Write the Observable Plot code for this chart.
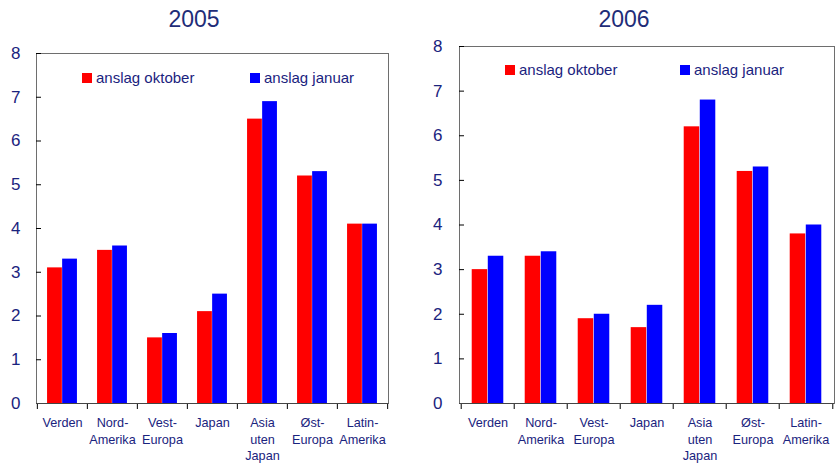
<!DOCTYPE html>
<html>
<head>
<meta charset="utf-8">
<script src="https://cdn.jsdelivr.net/npm/d3@7"></script>
<script src="https://cdn.jsdelivr.net/npm/@observablehq/plot@0.6"></script>
<style>
  html, body { margin: 0; padding: 0; background: #fff; }
  #root { position: relative; width: 836px; height: 464px; font-family: "Liberation Sans", Arial, sans-serif; overflow: hidden; }
  .title { position: absolute; top: 6px; font-size: 23px; color: #1f2d78; transform: translateX(-50%); white-space: nowrap; }
  .panel { position: absolute; top: 40px; }
  .leg { position: absolute; font-size: 15px; color: #1a237e; white-space: nowrap; line-height: 1; }
  .sw { position: absolute; width: 10px; height: 10px; }
</style>
</head>
<body>
<div id="root"></div>
<script>
const categories = ["Verden", "Nord-Amerika", "Vest-Europa", "Japan", "Asia uten Japan", "Øst-Europa", "Latin-Amerika"];
const tickLabels = ["Verden", "Nord-\nAmerika", "Vest-\nEuropa", "Japan", "Asia\nuten\nJapan", "Øst-\nEuropa", "Latin-\nAmerika"];
const yTicks = [0, 1, 2, 3, 4, 5, 6, 7, 8];
const seriesNames = ["anslag oktober", "anslag januar"];
const seriesColors = ["#ff0000", "#0000ff"];
const titles = ["2005", "2006"];
const okt2005 = [3.1, 3.5, 1.5, 2.1, 6.5, 5.2, 4.1];
const jan2005 = [3.3, 3.6, 1.6, 2.5, 6.9, 5.3, 4.1];
const okt2006 = [3.0, 3.3, 1.9, 1.7, 6.2, 5.2, 3.8];
const jan2006 = [3.3, 3.4, 2.0, 2.2, 6.8, 5.3, 4.0];

const navy = "#1a237e";
const root = document.getElementById("root");

function panel(okt, jan, opts) {
  const W = 418, H = 424;
  const step = (W - opts.ml - opts.mr) / categories.length;
  const rows = categories.map((c, i) => ({region: c, okt: okt[i], jan: jan[i], label: tickLabels[i]}));
  const plot = Plot.plot({
    width: W, height: H,
    marginLeft: opts.ml, marginRight: opts.mr, marginTop: opts.mt, marginBottom: opts.mb,
    style: {fontFamily: '"Liberation Sans", Arial, sans-serif', background: "transparent", overflow: "visible"},
    x: {domain: categories, padding: 0, axis: null, label: null},
    y: {domain: [0, 8], axis: null, label: null},
    marks: [
      Plot.barY(rows, {x: "region", y: "okt", fill: seriesColors[0], insetLeft: 0.2 * step, insetRight: 0.5 * step}),
      Plot.barY(rows, {x: "region", y: "jan", fill: seriesColors[1], insetLeft: 0.5 * step, insetRight: 0.2 * step}),
      Plot.frame({stroke: "#6e6e6e", strokeWidth: 1}),
      Plot.ruleY(yTicks, {stroke: "#000", insetRight: W - opts.ml - opts.mr - 5}),
      Plot.axisY({ticks: yTicks, tickSize: 0, tickPadding: opts.tp, fontSize: 17, fill: navy, label: null, tickFormat: d => String(d)}),
      Plot.axisX({tickSize: 6, dx: -step / 2, tickFormat: () => "", label: null, stroke: "#000"}),
      Plot.axisX({ticks: [categories[categories.length - 1]], tickSize: 6, dx: step / 2, tickFormat: () => "", label: null, stroke: "#000"}),
      Plot.ruleY([0], {stroke: "#444"}),
      Plot.text(rows, {x: "region", frameAnchor: "bottom", text: "label", lineAnchor: "top", dy: 12, lineHeight: 1.3, fontSize: 12.7, fill: navy})
    ]
  });
  const div = document.createElement("div");
  div.className = "panel";
  div.style.left = opts.left + "px";
  div.appendChild(plot);
  root.appendChild(div);

  const t = document.createElement("div");
  t.className = "title";
  t.style.left = opts.titleX + "px";
  t.textContent = opts.title;
  root.appendChild(t);

  opts.legend.forEach((lg, i) => {
    const sw = document.createElement("div");
    sw.className = "sw";
    sw.style.left = lg.x + "px";
    sw.style.top = lg.y + "px";
    sw.style.background = seriesColors[i];
    root.appendChild(sw);
    const tx = document.createElement("div");
    tx.className = "leg";
    tx.style.left = (lg.x + 14) + "px";
    tx.style.top = (lg.y - 3) + "px";
    tx.textContent = seriesNames[i];
    root.appendChild(tx);
  });
}

panel(okt2005, jan2005, {left: 0, ml: 36, mr: 30, mt: 13, mb: 61, tp: 16, titleX: 194, title: titles[0],
  legend: [{x: 82, y: 73}, {x: 250, y: 73}]});
panel(okt2006, jan2006, {left: 418, ml: 41, mr: 2, mt: 6, mb: 61, tp: 17, titleX: 624, title: titles[1],
  legend: [{x: 505, y: 65}, {x: 680, y: 65}]});
</script>
</body>
</html>
